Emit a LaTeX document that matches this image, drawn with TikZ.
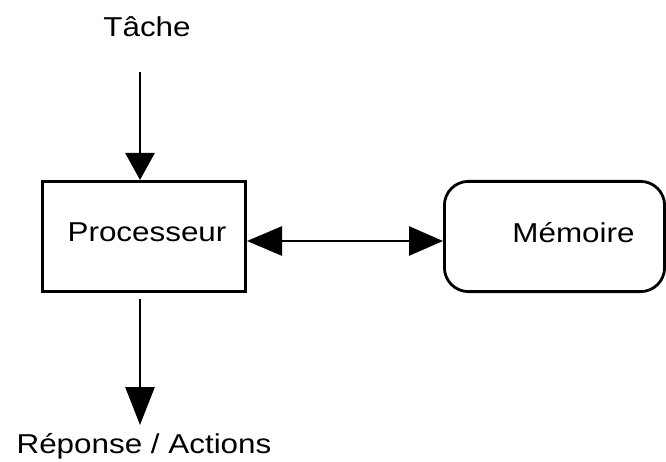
\documentclass[tikz,border=0pt]{standalone}
\usepackage{fontspec}
\setmainfont{Liberation Sans}[FakeStretch=1.15]
\usetikzlibrary{arrows.meta}
\begin{document}
\begin{tikzpicture}[x=1pt,y=-1pt,
  every node/.style={font=\fontsize{27.3}{33}\selectfont},
  boxline/.style={draw=black,line width=2.8pt,inner sep=0pt},
  conn/.style={line width=2.8pt,draw=black}
]
\useasboundingbox (0,0) rectangle (666,462);
% boxes
\node[boxline,rectangle,minimum width=203.2pt,minimum height=110.2pt] (proc) at (144,236.5) {};
\node[boxline,rectangle,rounded corners=24pt,minimum width=220.2pt,minimum height=110.2pt] (mem) at (554.5,236.5) {};
% texts
\node[anchor=base,inner sep=0pt] (proct) at (147,242) {Processeur};
\node[anchor=base,inner sep=0pt] (memt) at (573.5,243) {Mémoire};
\node[anchor=base,inner sep=0pt] (tache) at (147,37) {Tâche};
\node[anchor=base,inner sep=0pt] (rep) at (144,453) {Réponse / Actions};
% connectors
\coordinate (tin) at (140,72);
\coordinate (rout) at (140,425);
\draw[conn,-{Triangle[length=27pt,width=29pt]}] (tin) -- (tin |- proc.north);
\draw[conn,-{Triangle[length=38pt,width=29pt]},shorten <=6pt] (rout |- proc.south) -- (rout);
\draw[conn,{Triangle[length=35pt,width=29pt]}-{Triangle[length=34pt,width=29pt]}] ([yshift=-4.5pt]proc.east) -- ([yshift=-4.5pt]mem.west);
\end{tikzpicture}
\end{document}
